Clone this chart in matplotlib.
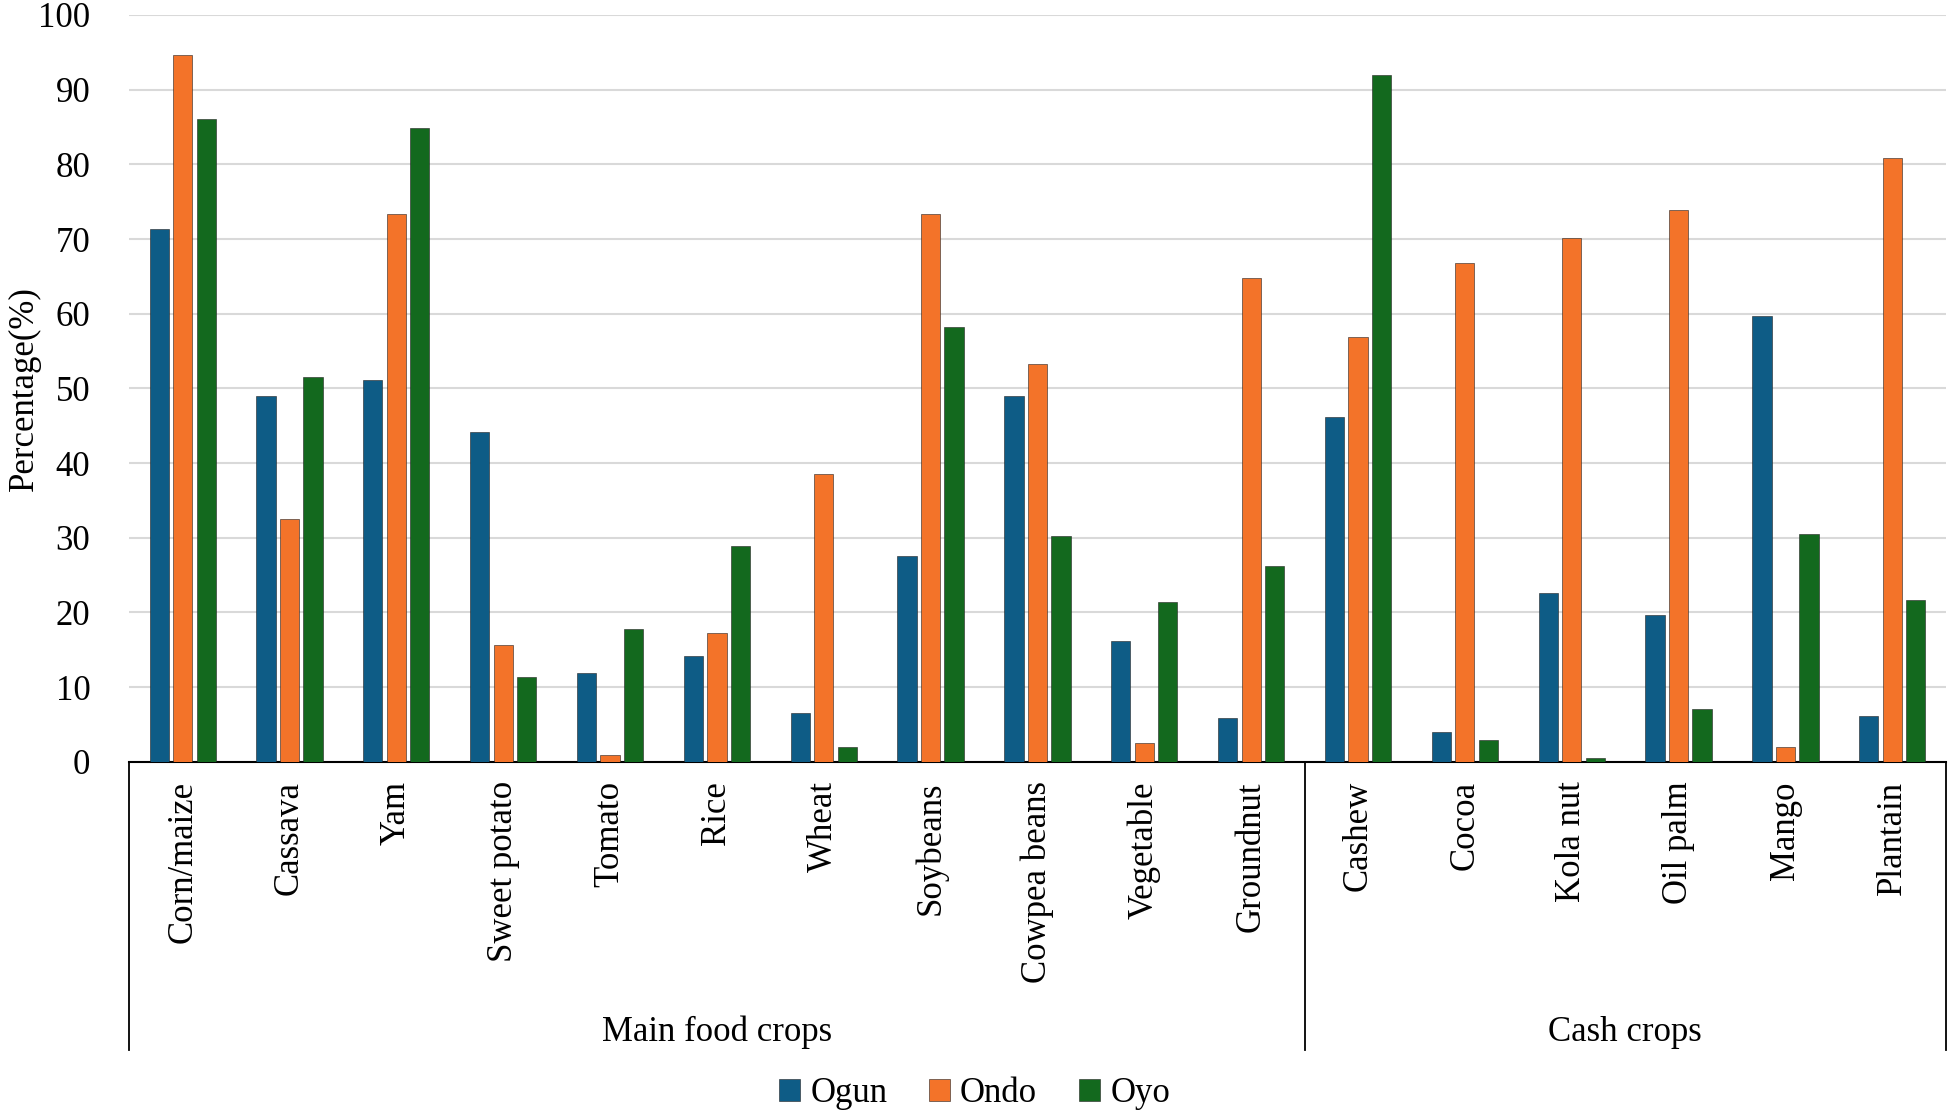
import matplotlib
matplotlib.use("Agg")
import matplotlib.pyplot as plt
import numpy as np

# crops and group names
crops = ['Corn/maize', 'Cassava', 'Yam', 'Sweet potato', 'Tomato', 'Rice', 'Wheat',
         'Soybeans', 'Cowpea beans', 'Vegetable', 'Groundnut',
         'Cashew', 'Cocoa', 'Kola nut', 'Oil palm', 'Mango', 'Plantain']
groups = ['Main food crops', 'Cash crops']
group_sizes = [11, 6]

# percentage of farmers per state
ogun = [71.4, 49.0, 51.1, 44.2, 11.9, 14.2, 6.6, 27.6, 49.0, 16.2, 5.8,
        46.2, 4.0, 22.6, 19.6, 59.7, 6.1]
ondo = [94.7, 32.5, 73.4, 15.7, 0.9, 17.2, 38.5, 73.4, 53.3, 2.5, 64.8,
        56.9, 66.8, 70.1, 73.9, 2.0, 80.8]
oyo = [86.1, 51.5, 84.9, 11.4, 17.8, 28.9, 2.0, 58.2, 30.2, 21.4, 26.2,
       91.9, 2.9, 0.5, 7.1, 30.5, 21.6]

states = ['Ogun', 'Ondo', 'Oyo']
colors = ['#0E5C86', '#F37329', '#13691E']

plt.rcParams['font.family'] = ['Liberation Serif', 'DejaVu Serif']
fs = 25

fig = plt.figure(figsize=(19.49, 11.17), dpi=100)
ax = fig.add_axes([0.0663, 0.318, 0.932, 0.6686])

x = np.arange(len(crops))
w = 0.18
step = 0.22
for i, (vals, name, c) in enumerate(zip([ogun, ondo, oyo], states, colors)):
    ax.bar(x + (i - 1) * step, vals, width=w, color=c, label=name,
           edgecolor='#222222', linewidth=0.4, zorder=3)

ax.set_xlim(-0.5, len(crops) - 0.5)
ax.set_ylim(0, 100)
ax.set_yticks(range(0, 101, 10))
ax.yaxis.grid(True, color='#D9D9D9', linewidth=1.5, zorder=0)
ax.tick_params(axis='y', length=0, pad=28, labelsize=fs)
ax.set_xticks(x)
ax.set_xticklabels(crops, rotation=90, fontsize=fs, va='top')
ax.tick_params(axis='x', length=0, pad=14)

for s in ['top', 'right', 'left']:
    ax.spines[s].set_visible(False)
ax.spines['bottom'].set_color('black')
ax.spines['bottom'].set_linewidth(1.5)

fig.text(0.0125, 0.652, 'Percentage(%)', rotation=90, fontsize=fs,
         ha='center', va='center')

# multi-level category axis: separators and group labels
bounds = np.cumsum([0] + group_sizes) - 0.5
trans = ax.get_xaxis_transform()
for b in bounds:
    ax.plot([b, b], [0, -0.386], color='black', linewidth=1.3,
            transform=trans, clip_on=False)
for g, lo, hi in zip(groups, bounds[:-1], bounds[1:]):
    ax.text((lo + hi) / 2, -0.362, g, transform=trans, ha='center',
            va='center', fontsize=fs)

fig.legend(loc='center', bbox_to_anchor=(0.5, 0.021), ncol=3, frameon=False,
           fontsize=fs, handlelength=0.6, handleheight=0.6, handletextpad=0.3,
           columnspacing=1.2)

fig.savefig('out.png', dpi=100)
